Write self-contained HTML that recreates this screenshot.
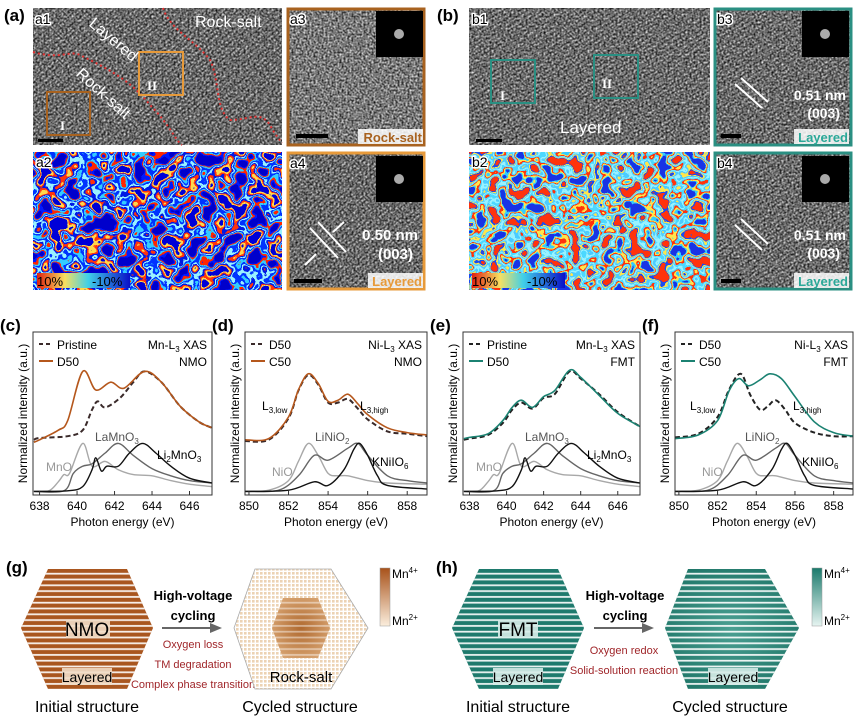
<!DOCTYPE html>
<html><head><meta charset="utf-8">
<style>
html,body{margin:0;padding:0;background:#fff;}
svg{display:block;font-family:"Liberation Sans",Arial,sans-serif;}
</style></head>
<body>
<svg id="fig" width="856" height="719" viewBox="0 0 856 719" xmlns="http://www.w3.org/2000/svg">
<defs>
  <filter id="tem" x="0" y="0" width="1" height="1" color-interpolation-filters="sRGB">
    <feTurbulence type="fractalNoise" baseFrequency="0.5" numOctaves="2" seed="3"/>
    <feColorMatrix type="matrix" values="1.25 0 0 0 -0.15  1.25 0 0 0 -0.15  1.25 0 0 0 -0.15  0 0 0 0 1"/>
  </filter>
  <filter id="strainA" x="0" y="0" width="1" height="1" color-interpolation-filters="sRGB">
    <feTurbulence type="fractalNoise" baseFrequency="0.06" numOctaves="2" seed="7"/>
    <feColorMatrix type="matrix" values="2.6 0 0 0 -0.8  2.6 0 0 0 -0.8  2.6 0 0 0 -0.8  0 0 0 0 1"/>
    <feComponentTransfer>
      <feFuncR type="discrete" tableValues="0 0 1 0.2 0 0.6 0 1 1 0"/>
      <feFuncG type="discrete" tableValues="0 0.1 0.15 0.8 0.2 0.95 0.1 0.2 0.85 0"/>
      <feFuncB type="discrete" tableValues="0.8 1 0 1 1 1 0.9 0.05 0.3 0.85"/>
    </feComponentTransfer>
  </filter>
  <filter id="strainB" x="0" y="0" width="1" height="1" color-interpolation-filters="sRGB">
    <feTurbulence type="fractalNoise" baseFrequency="0.07" numOctaves="2" seed="11"/>
    <feColorMatrix type="matrix" values="2.6 0 0 0 -0.8  2.6 0 0 0 -0.8  2.6 0 0 0 -0.8  0 0 0 0 1"/>
    <feComponentTransfer>
      <feFuncR type="discrete" tableValues="0.1 0.2 1 1 0.3 0.6 0.3 1 0.1 1"/>
      <feFuncG type="discrete" tableValues="0.2 0.8 0.9 0.2 0.85 0.95 0.8 0.9 0.3 0.2"/>
      <feFuncB type="discrete" tableValues="0.9 1 0.3 0.05 1 1 1 0.3 0.95 0.05"/>
    </feComponentTransfer>
  </filter>
  <pattern id="fringe" width="4" height="4" patternUnits="userSpaceOnUse" patternTransform="rotate(-40)">
    <rect width="4" height="1.6" fill="#000" opacity="0.3"/>
  </pattern>
  <pattern id="fringe2" width="4" height="4" patternUnits="userSpaceOnUse" patternTransform="rotate(-30)">
    <rect width="4" height="1.6" fill="#000" opacity="0.28"/>
  </pattern>
  <linearGradient id="cbStrain" x1="0" x2="1">
    <stop offset="0" stop-color="#e02010"/><stop offset="0.3" stop-color="#f7e060"/>
    <stop offset="0.55" stop-color="#40d0e8"/><stop offset="1" stop-color="#0a10c8"/>
  </linearGradient>
  <linearGradient id="cbMn" x1="0" y1="0" x2="0" y2="1">
    <stop offset="0" stop-color="#a8521a"/><stop offset="1" stop-color="#fbeedd"/>
  </linearGradient>
  <linearGradient id="cbTeal" x1="0" y1="0" x2="0" y2="1">
    <stop offset="0" stop-color="#1b7a6c"/><stop offset="1" stop-color="#e6f4f1"/>
  </linearGradient>
  <pattern id="stripes" width="10" height="5.8" patternUnits="userSpaceOnUse" y="569">
    <rect y="3.8" width="10" height="1.8" fill="#fff" opacity="0.9"/>
  </pattern>
  <pattern id="grid" width="4" height="4" patternUnits="userSpaceOnUse">
    <rect width="4" height="4" fill="#fff"/>
    <rect width="2.6" height="2.6" fill="#ecd3b4"/>
  </pattern>
  <radialGradient id="innerMn" cx="0.5" cy="0.5" r="0.6">
    <stop offset="0" stop-color="#b06a30"/><stop offset="1" stop-color="#d9a674"/>
  </radialGradient>
  <radialGradient id="tealCyc" cx="0.5" cy="0.5" r="0.6">
    <stop offset="0" stop-color="#4a9f92"/><stop offset="1" stop-color="#1f7668"/>
  </radialGradient>
</defs>

<!-- ===== (a) ===== -->
<text x="4" y="21" font-size="17" font-weight="bold">(a)</text>
<g>
  <rect x="33" y="8" width="249" height="137" filter="url(#tem)"/>
  <rect x="33" y="8" width="249" height="137" fill="url(#fringe)"/>
  <path d="M33,52 C60,60 70,50 80,55 C110,70 130,80 150,105 C170,125 175,140 182,145" fill="none" stroke="#e03030" stroke-width="2" stroke-dasharray="2,3"/>
  <path d="M163,8 C170,30 195,40 210,60 C220,80 215,110 230,120 C250,120 260,110 270,125 C275,135 280,140 282,143" fill="none" stroke="#e03030" stroke-width="2" stroke-dasharray="2,3"/>
  <rect x="47" y="92" width="43" height="43" fill="none" stroke="#a8621f" stroke-width="2"/>
  <rect x="139" y="52" width="44" height="43" fill="none" stroke="#e79a3a" stroke-width="2"/>
  <text x="60" y="130" fill="#fff" font-size="13" font-family="Liberation Serif" font-weight="bold">I</text>
  <text x="147" y="90" fill="#fff" font-size="13" font-family="Liberation Serif" font-weight="bold">II</text>
  <text x="195" y="27" fill="#fff" font-size="16">Rock-salt</text>
  <text x="88" y="25" fill="#fff" font-size="16" transform="rotate(40 88 25)">Layered</text>
  <text x="75" y="75" fill="#fff" font-size="16" transform="rotate(42 75 75)">Rock-salt</text>
  <rect x="38" y="139" width="25" height="3" fill="#000"/>
  <text x="35" y="24" fill="#000" font-size="14" style="paint-order:stroke" stroke="#fff" stroke-width="3">a1</text>
</g>
<g>
  <rect x="288" y="9" width="136" height="136" filter="url(#tem)"/>
  <rect x="288" y="9" width="136" height="136" fill="none" stroke="#a8621f" stroke-width="3"/>
  <rect x="376" y="11" width="47" height="46" fill="#000"/>
  <circle cx="399" cy="34" r="5" fill="#aaa"/>
  <text x="290" y="24" font-size="14" style="paint-order:stroke" stroke="#fff" stroke-width="3">a3</text>
  <rect x="296" y="134" width="32" height="4" fill="#000"/>
  <rect x="358" y="129" width="65" height="15" fill="#fff" opacity="0.85"/>
  <text x="422" y="142" text-anchor="end" font-size="13" font-weight="bold" fill="#a8621f">Rock-salt</text>
</g>
<g>
  <rect x="33" y="152" width="249" height="138" filter="url(#strainA)"/>
  <text x="36" y="167" font-size="14" style="paint-order:stroke" stroke="#fff" stroke-width="3">a2</text>
  <rect x="37" y="273" width="93" height="15" fill="url(#cbStrain)"/>
  <text x="37" y="286" font-size="13">10%</text>
  <text x="92" y="286" font-size="13">-10%</text>
</g>
<g>
  <rect x="288" y="153" width="136" height="136" filter="url(#tem)"/>
  <rect x="288" y="153" width="136" height="136" fill="url(#fringe)"/>
  <rect x="288" y="153" width="136" height="136" fill="none" stroke="#e79a3a" stroke-width="3"/>
  <rect x="376" y="156" width="47" height="46" fill="#000"/>
  <circle cx="399" cy="179" r="5" fill="#aaa"/>
  <text x="290" y="168" font-size="14" style="paint-order:stroke" stroke="#fff" stroke-width="3">a4</text>
  <path d="M310,228 L338,258 M318,222 L346,252" stroke="#fff" stroke-width="2"/>
  <path d="M344,222 L333,232 M305,265 L316,254" stroke="#fff" stroke-width="2"/>
  <text x="418" y="240" text-anchor="end" font-size="15" font-weight="bold" fill="#fff">0.50 nm</text>
  <text x="413" y="259" text-anchor="end" font-size="15" font-weight="bold" fill="#fff">(003)</text>
  <rect x="294" y="279" width="28" height="4" fill="#000"/>
  <rect x="368" y="273" width="55" height="15" fill="#fff" opacity="0.85"/>
  <text x="422" y="286" text-anchor="end" font-size="13" font-weight="bold" fill="#e79a3a">Layered</text>
</g>

<!-- ===== (b) ===== -->
<text x="437" y="21" font-size="17" font-weight="bold">(b)</text>
<g>
  <rect x="469" y="8" width="241" height="137" filter="url(#tem)"/>
  <rect x="469" y="8" width="241" height="137" fill="url(#fringe2)"/>
  <rect x="491" y="60" width="44" height="43" fill="none" stroke="#2a8f82" stroke-width="2"/>
  <rect x="594" y="55" width="44" height="43" fill="none" stroke="#2a8f82" stroke-width="2"/>
  <text x="500" y="100" fill="#fff" font-size="13" font-family="Liberation Serif" font-weight="bold">I</text>
  <text x="602" y="88" fill="#fff" font-size="13" font-family="Liberation Serif" font-weight="bold">II</text>
  <text x="560" y="133" fill="#fff" font-size="17">Layered</text>
  <rect x="476" y="139" width="26" height="3" fill="#000"/>
  <text x="472" y="24" font-size="14" style="paint-order:stroke" stroke="#fff" stroke-width="3">b1</text>
</g>
<g>
  <rect x="715" y="9" width="136" height="136" filter="url(#tem)"/>
  <rect x="715" y="9" width="136" height="136" fill="url(#fringe2)"/>
  <rect x="715" y="9" width="136" height="136" fill="none" stroke="#2a8f82" stroke-width="3"/>
  <rect x="802" y="11" width="47" height="46" fill="#000"/>
  <circle cx="825" cy="34" r="5" fill="#aaa"/>
  <text x="717" y="24" font-size="14" style="paint-order:stroke" stroke="#fff" stroke-width="3">b3</text>
  <path d="M735,84 L762,108 M741,78 L768,102" stroke="#fff" stroke-width="2"/>
  <text x="846" y="100" text-anchor="end" font-size="14" font-weight="bold" fill="#fff">0.51 nm</text>
  <text x="840" y="118" text-anchor="end" font-size="14" font-weight="bold" fill="#fff">(003)</text>
  <rect x="721" y="134" width="20" height="4" fill="#000"/>
  <rect x="794" y="129" width="55" height="15" fill="#fff" opacity="0.85"/>
  <text x="848" y="142" text-anchor="end" font-size="13" font-weight="bold" fill="#2aa898">Layered</text>
</g>
<g>
  <rect x="469" y="152" width="241" height="138" filter="url(#strainB)"/>
  <text x="472" y="167" font-size="14" style="paint-order:stroke" stroke="#fff" stroke-width="3">b2</text>
  <rect x="472" y="273" width="93" height="15" fill="url(#cbStrain)"/>
  <text x="472" y="286" font-size="13">10%</text>
  <text x="527" y="286" font-size="13">-10%</text>
</g>
<g>
  <rect x="715" y="153" width="136" height="136" filter="url(#tem)"/>
  <rect x="715" y="153" width="136" height="136" fill="url(#fringe2)"/>
  <rect x="715" y="153" width="136" height="136" fill="none" stroke="#2a8f82" stroke-width="3"/>
  <rect x="802" y="156" width="47" height="46" fill="#000"/>
  <circle cx="825" cy="179" r="5" fill="#aaa"/>
  <text x="717" y="168" font-size="14" style="paint-order:stroke" stroke="#fff" stroke-width="3">b4</text>
  <path d="M735,225 L762,250 M741,219 L768,244" stroke="#fff" stroke-width="2"/>
  <text x="846" y="240" text-anchor="end" font-size="14" font-weight="bold" fill="#fff">0.51 nm</text>
  <text x="840" y="258" text-anchor="end" font-size="14" font-weight="bold" fill="#fff">(003)</text>
  <rect x="721" y="279" width="20" height="4" fill="#000"/>
  <rect x="794" y="273" width="55" height="15" fill="#fff" opacity="0.85"/>
  <text x="848" y="286" text-anchor="end" font-size="13" font-weight="bold" fill="#2aa898">Layered</text>
</g>

<!-- ===== XAS panels (drawn by script) ===== -->
<g id="xas"></g>

<!-- ===== (g) ===== -->
<g>
  <text x="6" y="573" font-size="17" font-weight="bold">(g)</text>
  <polygon points="21,628 48,569 127,569 153,628 127,689 48,689" fill="#a9561f"/>
  <polygon points="21,628 48,569 127,569 153,628 127,689 48,689" fill="url(#stripes)"/>
  <rect x="66" y="620" width="44" height="18" fill="#f1ddc7" opacity="0.9"/>
  <text x="87" y="636" text-anchor="middle" font-size="19">NMO</text>
  <rect x="62" y="668" width="50" height="17" fill="#f1ddc7" opacity="0.9"/>
  <text x="87" y="682" text-anchor="middle" font-size="14">Layered</text>
  <text x="87" y="712" text-anchor="middle" font-size="16">Initial structure</text>
  <text x="193" y="600" text-anchor="middle" font-size="13" font-weight="bold">High-voltage</text>
  <text x="193" y="620" text-anchor="middle" font-size="13" font-weight="bold">cycling</text>
  <path d="M162,628 L212,628" stroke="#666" stroke-width="2"/>
  <polygon points="210,623 222,628 210,633" fill="#666"/>
  <text x="193" y="648" text-anchor="middle" font-size="11" fill="#a0262a">Oxygen loss</text>
  <text x="193" y="668" text-anchor="middle" font-size="11" fill="#a0262a">TM degradation</text>
  <text x="193" y="688" text-anchor="middle" font-size="11" fill="#a0262a">Complex phase transition</text>
  <polygon points="234,628 255,569 331,569 368,628 331,689 255,689" fill="url(#grid)" stroke="#aaa" stroke-width="0.8"/>
  <polygon points="272,628 283,598 318,598 330,628 318,658 283,658" fill="url(#innerMn)"/>
  <polygon points="272,628 283,598 318,598 330,628 318,658 283,658" fill="url(#stripes)" opacity="0.5"/>
  <text x="301" y="682" text-anchor="middle" font-size="15">Rock-salt</text>
  <text x="300" y="712" text-anchor="middle" font-size="16">Cycled structure</text>
  <rect x="380" y="568" width="10" height="58" fill="url(#cbMn)" stroke="#999" stroke-width="0.5"/>
  <text x="392" y="578" font-size="12">Mn<tspan font-size="8" dy="-5">4+</tspan></text>
  <text x="392" y="625" font-size="12">Mn<tspan font-size="8" dy="-5">2+</tspan></text>
</g>

<!-- ===== (h) ===== -->
<g>
  <text x="436" y="573" font-size="17" font-weight="bold">(h)</text>
  <polygon points="452,628 479,569 558,569 584,628 558,689 479,689" fill="#1e7a6d"/>
  <polygon points="452,628 479,569 558,569 584,628 558,689 479,689" fill="url(#stripes)"/>
  <rect x="498" y="620" width="40" height="18" fill="#d6ece8" opacity="0.9"/>
  <text x="518" y="636" text-anchor="middle" font-size="19">FMT</text>
  <rect x="493" y="668" width="50" height="17" fill="#d6ece8" opacity="0.9"/>
  <text x="518" y="682" text-anchor="middle" font-size="14">Layered</text>
  <text x="518" y="712" text-anchor="middle" font-size="16">Initial structure</text>
  <text x="625" y="600" text-anchor="middle" font-size="13" font-weight="bold">High-voltage</text>
  <text x="625" y="620" text-anchor="middle" font-size="13" font-weight="bold">cycling</text>
  <path d="M594,628 L644,628" stroke="#666" stroke-width="2"/>
  <polygon points="642,623 654,628 642,633" fill="#666"/>
  <text x="624" y="654" text-anchor="middle" font-size="11" fill="#a0262a">Oxygen redox</text>
  <text x="624" y="674" text-anchor="middle" font-size="11" fill="#a0262a">Solid-solution reaction</text>
  <polygon points="665,628 688,569 765,569 799,628 765,689 688,689" fill="url(#tealCyc)"/>
  <polygon points="665,628 688,569 765,569 799,628 765,689 688,689" fill="url(#stripes)"/>
  <rect x="708" y="668" width="50" height="17" fill="#d6ece8" opacity="0.9"/>
  <text x="733" y="682" text-anchor="middle" font-size="14">Layered</text>
  <text x="730" y="712" text-anchor="middle" font-size="16">Cycled structure</text>
  <rect x="812" y="568" width="10" height="58" fill="url(#cbTeal)" stroke="#999" stroke-width="0.5"/>
  <text x="824" y="578" font-size="12">Mn<tspan font-size="8" dy="-5">4+</tspan></text>
  <text x="824" y="625" font-size="12">Mn<tspan font-size="8" dy="-5">2+</tspan></text>
</g>
</svg>

<script>
// ---- data (energy eV, normalized intensity) ----
const mnTicks = [638, 640, 642, 644, 646];
const niTicks = [850, 852, 854, 856, 858];
const mnRefMnO_E = [637.7, 638.5, 639, 639.3, 639.6, 640.3, 640.8, 641.5, 642.2, 643, 644, 645, 646, 647.2];
const mnRefMnO_V = [0.03, 0.035, 0.11, 0.17, 0.18, 0.43, 0.24, 0.28, 0.21, 0.17, 0.16, 0.12, 0.09, 0.07];
const mnRefLa_E = [637.7, 639.3, 639.8, 640.3, 640.8, 641.5, 642.2, 643, 644, 645, 646, 647.2];
const mnRefLa_V = [0.03, 0.035, 0.18, 0.24, 0.26, 0.35, 0.43, 0.33, 0.22, 0.16, 0.12, 0.10];
const mnRefLi_E = [637.7, 639.5, 640.3, 640.8, 641, 641.3, 641.6, 642.2, 642.8, 643.5, 644.2, 645, 646, 647.2];
const mnRefLi_V = [0.03, 0.035, 0.07, 0.21, 0.31, 0.20, 0.24, 0.24, 0.35, 0.43, 0.35, 0.24, 0.14, 0.10];
const niRefNiO_E = [849.8, 851, 852, 852.5, 853, 853.5, 854, 854.5, 855, 856, 857, 859];
const niRefNiO_V = [0.03, 0.04, 0.12, 0.28, 0.43, 0.33, 0.18, 0.16, 0.16, 0.12, 0.10, 0.09];
const niRefLi_E = [849.8, 851.5, 852.5, 853.3, 854, 855, 855.5, 856, 857, 858, 859];
const niRefLi_V = [0.03, 0.04, 0.16, 0.33, 0.29, 0.39, 0.43, 0.33, 0.16, 0.12, 0.10];
const niRefK_E = [849.8, 852, 853.3, 854, 854.8, 855.3, 855.6, 856, 856.5, 857, 859];
const niRefK_V = [0.03, 0.04, 0.11, 0.08, 0.21, 0.38, 0.43, 0.33, 0.16, 0.08, 0.05];
const cD50_E = [637.7, 638, 639, 639.5, 640.3, 641, 641.8, 642.5, 643.6, 644.5, 645.5, 646.5, 647.2];
const cD50_V = [0.44, 0.46, 0.54, 0.62, 1.03, 0.875, 0.94, 0.89, 1.03, 0.94, 0.74, 0.61, 0.56];
const cPri_E = [637.7, 638, 639.5, 640.3, 640.8, 641.1, 641.5, 642.3, 643, 643.6, 644.5, 645.5, 646.5, 647.2];
const cPri_V = [0.46, 0.475, 0.49, 0.54, 0.71, 0.78, 0.73, 0.81, 0.94, 1.03, 0.94, 0.74, 0.61, 0.56];
const dC50_E = [849.8, 851, 852, 852.5, 853, 853.5, 854, 854.5, 855, 855.5, 856, 857, 858, 859];
const dC50_V = [0.46, 0.47, 0.65, 0.875, 1.01, 0.93, 0.78, 0.79, 0.84, 0.76, 0.67, 0.56, 0.52, 0.50];
const dD50_E = [849.8, 851, 852, 852.5, 853, 853.5, 854, 854.5, 855, 855.5, 856, 857, 858, 859];
const dD50_V = [0.45, 0.46, 0.64, 0.87, 1.00, 0.92, 0.77, 0.77, 0.80, 0.72, 0.63, 0.53, 0.51, 0.49];
const eD50_E = [637.7, 638, 639, 639.8, 640.3, 640.8, 641.4, 642, 642.6, 643.4, 644, 645, 646, 647.2];
const eD50_V = [0.47, 0.48, 0.51, 0.62, 0.73, 0.79, 0.73, 0.82, 0.87, 1.04, 0.98, 0.83, 0.68, 0.57];
const ePri_E = [637.7, 638, 639, 639.8, 640.3, 640.8, 641.4, 642, 642.6, 643.4, 644, 645, 646, 647.2];
const ePri_V = [0.46, 0.47, 0.50, 0.60, 0.71, 0.77, 0.72, 0.81, 0.84, 1.03, 0.97, 0.84, 0.69, 0.57];
const fC50_E = [849.8, 851, 852, 852.6, 853.1, 853.6, 854.2, 854.7, 855.3, 856, 857, 858, 859];
const fC50_V = [0.47, 0.50, 0.62, 0.87, 0.97, 0.91, 0.96, 1.01, 0.97, 0.82, 0.61, 0.52, 0.49];
const fD50_E = [849.8, 851, 852, 852.6, 853.2, 853.7, 854.2, 854.6, 855, 855.5, 856, 857, 858, 859];
const fD50_V = [0.48, 0.51, 0.65, 0.88, 1.01, 0.83, 0.71, 0.74, 0.79, 0.71, 0.60, 0.52, 0.49, 0.49];

const NS = 'http://www.w3.org/2000/svg';
const root = document.getElementById('xas');
function mk(tag, attrs, parent, txt) {
  const el = document.createElementNS(NS, tag);
  for (const k in attrs) el.setAttribute(k, attrs[k]);
  if (txt !== undefined) el.textContent = txt;
  (parent || root).appendChild(el);
  return el;
}
function smooth(pts) {
  let d = 'M' + pts[0][0].toFixed(1) + ',' + pts[0][1].toFixed(1);
  for (let i = 0; i < pts.length - 1; i++) {
    const p0 = pts[i - 1] || pts[i], p1 = pts[i], p2 = pts[i + 1], p3 = pts[i + 2] || p2;
    const c1 = [p1[0] + (p2[0] - p0[0]) / 6, p1[1] + (p2[1] - p0[1]) / 6];
    const c2 = [p2[0] - (p3[0] - p1[0]) / 6, p2[1] - (p3[1] - p1[1]) / 6];
    d += ' C' + c1[0].toFixed(1) + ',' + c1[1].toFixed(1) + ' ' + c2[0].toFixed(1) + ',' + c2[1].toFixed(1) + ' ' + p2[0].toFixed(1) + ',' + p2[1].toFixed(1);
  }
  return d;
}
const TOP = 332, BOT = 495;
function yS(v) { return BOT - v * 120; }

function panel(cfg) {
  const g = mk('g', {});
  
  
  const xS = e => cfg.x0 + (e - cfg.d0) / (cfg.d1 - cfg.d0) * (cfg.x1 - cfg.x0);
  const lab = mk('text', {x: cfg.x0 - 33, y: 331, 'font-size': 17, 'font-weight': 'bold'}, g, '(' + cfg.id + ')');
  
  
  cfg.series.forEach(s => {
    const pts = s.e.map((e, i) => [xS(e), yS(s.v[i])]);
    const p = mk('path', {d: smooth(pts), fill: 'none', stroke: s.c, 'stroke-width': s.w || 1.6, 'stroke-dasharray': s.dash || 'none'}, g);
    
    
  });
  const fr = mk('rect', {x: cfg.x0, y: TOP, width: cfg.x1 - cfg.x0, height: BOT - TOP, fill: 'none', stroke: '#333', 'stroke-width': 1}, g);
  
  
  cfg.ticks.forEach(t => {
    mk('line', {x1: xS(t), x2: xS(t), y1: BOT, y2: BOT - 4, stroke: '#333'}, g);
    const tl = mk('text', {x: xS(t), y: 510, 'font-size': 12, 'text-anchor': 'middle'}, g, String(t));
    
    
  });
  const xt = mk('text', {x: (cfg.x0 + cfg.x1) / 2, y: 526, 'font-size': 12, 'text-anchor': 'middle'}, g, 'Photon energy (eV)');
  
  
  const yt = mk('text', {x: 0, y: 0, 'font-size': 12, 'text-anchor': 'middle', transform: 'translate(' + (cfg.x0 - 6) + ',' + ((TOP + BOT) / 2) + ') rotate(-90)'}, g, 'Normalized intensity (a.u.)');
  
  
  const lg = mk('g', {}, g);
  
  
  mk('line', {x1: cfg.x0 + 6, x2: cfg.x0 + 20, y1: 344, y2: 344, stroke: cfg.leg[0].c, 'stroke-width': 2, 'stroke-dasharray': '4,3'}, lg);
  mk('text', {x: cfg.x0 + 24, y: 349, 'font-size': 12}, lg, cfg.leg[0].t);
  mk('line', {x1: cfg.x0 + 6, x2: cfg.x0 + 20, y1: 361, y2: 361, stroke: cfg.leg[1].c, 'stroke-width': 2}, lg);
  mk('text', {x: cfg.x0 + 24, y: 366, 'font-size': 12}, lg, cfg.leg[1].t);
  const t1 = mk('text', {x: cfg.x1 - 5, y: 349, 'font-size': 12, 'text-anchor': 'end'}, g);
  t1.innerHTML = cfg.edge + '-L<tspan font-size="8" dy="3">3</tspan><tspan dy="-3"> XAS</tspan>';
  mk('text', {x: cfg.x1 - 5, y: 366, 'font-size': 12, 'text-anchor': 'end'}, g, cfg.sample);
  cfg.labels.forEach(l => {
    const t = mk('text', {x: l.x, y: l.y, 'font-size': 12, fill: l.c || '#000', 'text-anchor': l.a || 'start'}, g);
    t.innerHTML = l.h;
  });
}
const ORANGE = '#b5571c', TEAL = '#1b8272', DASH = '#3a2a2a';
const mnRefs = [
  {name: 'MnO', e: mnRefMnO_E, v: mnRefMnO_V, c: '#a8a8a8', w: 1.4},
  {name: 'LaMnO3', e: mnRefLa_E, v: mnRefLa_V, c: '#666', w: 1.4},
  {name: 'Li2MnO3', e: mnRefLi_E, v: mnRefLi_V, c: '#111', w: 1.4}];
const niRefs = [
  {name: 'NiO', e: niRefNiO_E, v: niRefNiO_V, c: '#a8a8a8', w: 1.4},
  {name: 'LiNiO2', e: niRefLi_E, v: niRefLi_V, c: '#666', w: 1.4},
  {name: 'KNiIO6', e: niRefK_E, v: niRefK_V, c: '#111', w: 1.4}];
const mnLabels = dx => [
  {x: 46 + dx, y: 471, h: 'MnO', c: '#999'},
  {x: 95 + dx, y: 441, h: 'LaMnO<tspan font-size="8" dy="3">3</tspan>', c: '#555'},
  {x: 157 + dx, y: 459, h: 'Li<tspan font-size="8" dy="3">2</tspan><tspan dy="-3">MnO</tspan><tspan font-size="8" dy="3">3</tspan>'}];
const niLabels = dx => [
  {x: 272 + dx, y: 476, h: 'NiO', c: '#999'},
  {x: 315 + dx, y: 441, h: 'LiNiO<tspan font-size="8" dy="3">2</tspan>', c: '#555'},
  {x: 372 + dx, y: 466, h: 'KNiIO<tspan font-size="8" dy="3">6</tspan>'}];
panel({id: 'c', x0: 33, x1: 212, d0: 637.65, d1: 647.2, ticks: mnTicks, edge: 'Mn', sample: 'NMO',
  leg: [{t: 'Pristine', c: DASH}, {t: 'D50', c: ORANGE}],
  series: mnRefs.concat([{name: 'pristine', e: cPri_E, v: cPri_V, c: DASH, w: 2, dash: '5,3'}, {name: 'd50', e: cD50_E, v: cD50_V, c: ORANGE}]),
  labels: mnLabels(0)});
panel({id: 'd', x0: 245, x1: 427, d0: 849.8, d1: 859.0, ticks: niTicks, edge: 'Ni', sample: 'NMO',
  leg: [{t: 'D50', c: DASH}, {t: 'C50', c: ORANGE}],
  series: niRefs.concat([{name: 'd50', e: dD50_E, v: dD50_V, c: DASH, w: 2, dash: '5,3'}, {name: 'c50', e: dC50_E, v: dC50_V, c: ORANGE}]),
  labels: niLabels(0).concat([
    {x: 262, y: 410, h: 'L<tspan font-size="8" dy="3">3,low</tspan>'},
    {x: 360, y: 410, h: 'L<tspan font-size="8" dy="3">3,high</tspan>'}])});
panel({id: 'e', x0: 463, x1: 640, d0: 637.65, d1: 647.2, ticks: mnTicks, edge: 'Mn', sample: 'FMT',
  leg: [{t: 'Pristine', c: '#222'}, {t: 'D50', c: TEAL}],
  series: mnRefs.concat([{name: 'pristine', e: ePri_E, v: ePri_V, c: '#222', w: 2, dash: '5,3'}, {name: 'd50', e: eD50_E, v: eD50_V, c: TEAL}]),
  labels: mnLabels(430)});
panel({id: 'f', x0: 675, x1: 853, d0: 849.8, d1: 859.0, ticks: niTicks, edge: 'Ni', sample: 'FMT',
  leg: [{t: 'D50', c: '#222'}, {t: 'C50', c: TEAL}],
  series: niRefs.concat([{name: 'd50', e: fD50_E, v: fD50_V, c: '#222', w: 2, dash: '5,3'}, {name: 'c50', e: fC50_E, v: fC50_V, c: TEAL}]),
  labels: niLabels(430).concat([
    {x: 690, y: 410, h: 'L<tspan font-size="8" dy="3">3,low</tspan>'},
    {x: 793, y: 410, h: 'L<tspan font-size="8" dy="3">3,high</tspan>'}])});
</script>
</body></html>
